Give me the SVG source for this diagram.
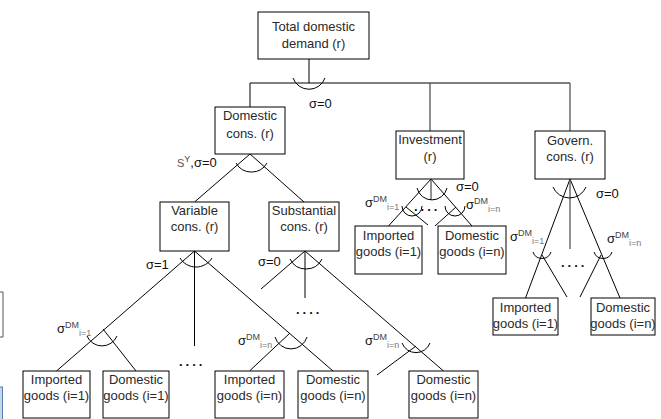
<svg xmlns="http://www.w3.org/2000/svg" width="661" height="419" viewBox="0 0 661 419">
<style>
.box{fill:#fff;stroke:#000;stroke-width:1}
.lbl{font-family:"Liberation Sans",Arial,sans-serif;font-size:13px;fill:#2a2a2a;text-anchor:middle}
.ln{fill:none;stroke:#000;stroke-width:1}
.gl{fill:none;stroke:#555;stroke-width:1.3}
.arc{fill:none;stroke:#000;stroke-width:1}
.sig{font-family:"Liberation Sans",Arial,sans-serif;font-size:13px;fill:#111}
.sup{font-size:9px;fill:#444}
.sub{font-size:9px;fill:#777}
.dots{font-family:"Liberation Sans",Arial,sans-serif;font-size:13px;font-weight:bold;fill:#111;letter-spacing:3px}
</style>
<rect width="661" height="419" fill="#fff"/>
<!-- edge fragments -->
<path d="M0 292 H3 V337 H0" fill="none" stroke="#555" stroke-width="1"/>
<rect x="-2" y="387" width="4.5" height="40" fill="#c5d5ea" stroke="#5b7fae" stroke-width="1"/>

<g id="connectors">
  <!-- top level -->
  <path class="ln" d="M309 59 V83 M250 83 H570 M250 83 V107"/>
  <path class="gl" d="M430 83 V131 M570 83 V131"/>
  <path class="arc" d="M293 78 A17 17 0 0 0 325 78"/>
  <!-- domestic cons -->
  <path class="ln" d="M250 154 L194.5 202 M250 154 L304 202"/>
  <path class="arc" d="M236 163 A17.8 17.8 0 0 0 267 163"/>
  <!-- variable cons -->
  <path class="ln" d="M194.5 251 L56.5 371 M194.5 251 L333 371 M194.5 251 V346 M103 329 L136 371 M290 333 L249.5 371"/>
  <path class="arc" d="M180 258 A18.7 18.7 0 0 0 212 258"/>
  <path class="arc" d="M87 336 A16.3 16.3 0 0 0 117 336"/>
  <path class="arc" d="M275 337 A16.7 16.7 0 0 0 307 337"/>
  <!-- substantial cons -->
  <path class="ln" d="M305 251 L261 289 M305 251 V298 M305 251 L443.5 371 M416 346 L377 375"/>
  <path class="arc" d="M290 259 A17.8 17.8 0 0 0 322 259"/>
  <path class="arc" d="M402 343 A15 15 0 0 0 430 343"/>
  <!-- investment -->
  <path class="ln" d="M431 179 L388.5 226 M431 179 L472 226 M406 207 L428 225 M456 207 L435 226"/>
  <path class="gl" d="M431 179 V200"/>
  <path class="arc" d="M417 188 A15.4 15.4 0 0 0 447 188"/>
  <path class="arc" d="M402 206 A10 10 0 0 0 422 206"/>
  <path class="arc" d="M445 206 A10 10 0 0 0 465 206"/>
  <!-- government -->
  <path class="ln" d="M570 179 L525.5 298 M570 179 L620 298 M542 255 L567 297 M601 255 L580 297"/>
  <path class="gl" d="M570 179 V249"/>
  <path class="arc" d="M553 187 A17.9 17.9 0 0 0 586 187"/>
  <path class="arc" d="M533 252 A9.5 9.5 0 0 0 551 252"/>
  <path class="arc" d="M594 252 A9.5 9.5 0 0 0 612 252"/>
</g>

<g id="labels">
  <text class="sig" x="309" y="108">σ=0</text>
  <text class="sig" x="177" y="167"><tspan font-size="11" fill="#555">S</tspan><tspan class="sup" dy="-5">Y</tspan><tspan dy="5">,σ=0</tspan></text>
  <text class="sig" x="146" y="269">σ=1</text>
  <text class="sig" x="258" y="266">σ=0</text>
  <text class="sig" x="456" y="191">σ=0</text>
  <text class="sig" x="596" y="198">σ=0</text>
  <text class="sig" x="57" y="333">σ<tspan class="sup" dy="-5">DM</tspan><tspan class="sub" dy="8">i=1</tspan></text>
  <text class="sig" x="238" y="345">σ<tspan class="sup" dy="-5">DM</tspan><tspan class="sub" dy="8">i=n</tspan></text>
  <text class="sig" x="365" y="345">σ<tspan class="sup" dy="-5">DM</tspan><tspan class="sub" dy="8">i=n</tspan></text>
  <text class="sig" x="365" y="207">σ<tspan class="sup" dy="-5">DM</tspan><tspan class="sub" dy="8">i=1</tspan></text>
  <text class="sig" x="466" y="209">σ<tspan class="sup" dy="-5">DM</tspan><tspan class="sub" dy="8">i=n</tspan></text>
  <text class="sig" x="510" y="241">σ<tspan class="sup" dy="-5">DM</tspan><tspan class="sub" dy="8">i=1</tspan></text>
  <text class="sig" x="607" y="243">σ<tspan class="sup" dy="-5">DM</tspan><tspan class="sub" dy="8">i=n</tspan></text>
  <text class="dots" x="179" y="366">....</text>
  <text class="dots" x="296" y="314">....</text>
  <text class="dots" x="414" y="211">....</text>
  <text class="dots" x="561" y="267">....</text>
</g>

<g id="total"><rect class="box" x="258" y="12" width="111" height="47"/><text class="lbl" x="313.5" y="31">Total domestic</text><text class="lbl" x="313.5" y="48">demand (r)</text></g>
<g id="domcons"><rect class="box" x="215" y="107" width="70" height="47"/><text class="lbl" x="250" y="120">Domestic</text><text class="lbl" x="250" y="138">cons. (r)</text></g>
<g id="investment"><rect class="box" x="396" y="131" width="68" height="48"/><text class="lbl" x="430" y="144">Investment</text><text class="lbl" x="430" y="161">(r)</text></g>
<g id="govern"><rect class="box" x="535" y="131" width="70" height="48"/><text class="lbl" x="570" y="145">Govern.</text><text class="lbl" x="570" y="161">cons. (r)</text></g>
<g id="variable"><rect class="box" x="160" y="202" width="69" height="49"/><text class="lbl" x="194.5" y="215">Variable</text><text class="lbl" x="194.5" y="231">cons. (r)</text></g>
<g id="substantial"><rect class="box" x="269" y="202" width="70" height="49"/><text class="lbl" x="304" y="215">Substantial</text><text class="lbl" x="304" y="231">cons. (r)</text></g>
<g id="inv-imp"><rect class="box" x="355" y="226" width="67" height="48"/><text class="lbl" x="388.5" y="240">Imported</text><text class="lbl" x="388.5" y="256">goods (i=1)</text></g>
<g id="inv-dom"><rect class="box" x="438" y="226" width="68" height="48"/><text class="lbl" x="472" y="240">Domestic</text><text class="lbl" x="472" y="256">goods (i=n)</text></g>
<g id="gov-imp"><rect class="box" x="493" y="298" width="65" height="37"/><text class="lbl" x="525.5" y="312">Imported</text><text class="lbl" x="525.5" y="328">goods (i=1)</text></g>
<g id="gov-dom"><rect class="box" x="591" y="298" width="64" height="37"/><text class="lbl" x="623" y="312">Domestic</text><text class="lbl" x="623" y="328">goods (i=n)</text></g>
<g id="var-imp1"><rect class="box" x="23" y="371" width="67" height="47"/><text class="lbl" x="56.5" y="384">Imported</text><text class="lbl" x="56.5" y="400">goods (i=1)</text></g>
<g id="var-dom1"><rect class="box" x="103" y="371" width="66" height="47"/><text class="lbl" x="136" y="384">Domestic</text><text class="lbl" x="136" y="400">goods (i=1)</text></g>
<g id="var-impn"><rect class="box" x="215" y="371" width="69" height="47"/><text class="lbl" x="249.5" y="384">Imported</text><text class="lbl" x="249.5" y="400">goods (i=n)</text></g>
<g id="var-domn"><rect class="box" x="298" y="371" width="70" height="47"/><text class="lbl" x="333" y="384">Domestic</text><text class="lbl" x="333" y="400">goods (i=n)</text></g>
<g id="sub-domn"><rect class="box" x="409" y="371" width="69" height="47"/><text class="lbl" x="443.5" y="384">Domestic</text><text class="lbl" x="443.5" y="400">goods (i=n)</text></g>
</svg>
